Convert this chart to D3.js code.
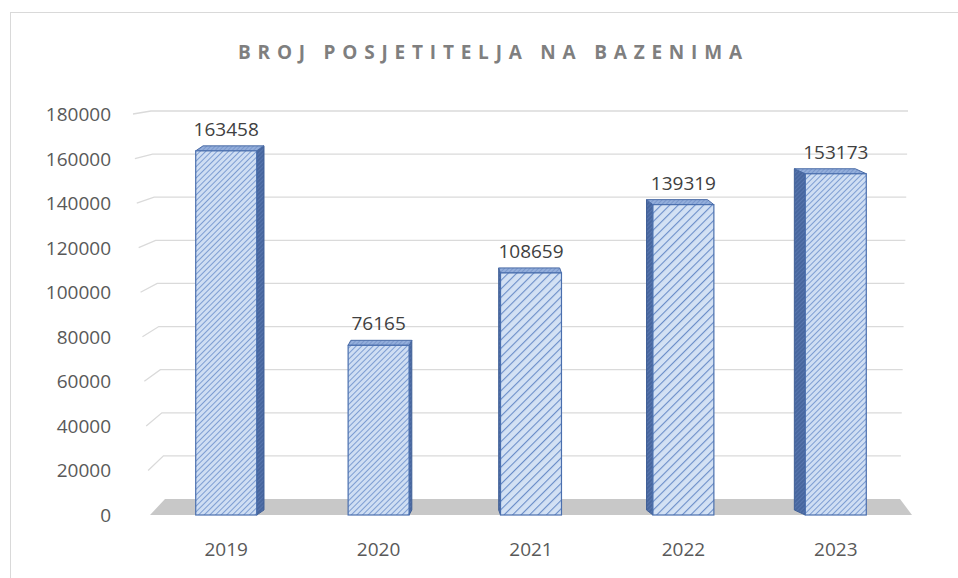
<!DOCTYPE html>
<html>
<head>
<meta charset="utf-8">
<script src="https://cdn.jsdelivr.net/npm/d3@7"></script>
<style>
  body { margin: 0; background: #fff; }
  svg { display: block; }
</style>
</head>
<body>
<svg id="chart" width="958" height="578"></svg>
<script>
// data
var chartTitle = 'BROJ POSJETITELJA NA BAZENIMA';
var years = ['2019', '2020', '2021', '2022', '2023'];
var visitors = [163458, 76165, 108659, 139319, 153173];
var yTicks = [0, 20000, 40000, 60000, 80000, 100000, 120000, 140000, 160000, 180000];

var data = years.map(function (y, i) {
  return { year: y, value: visitors[i], idx: i };
});

var svg = d3.select('#chart');
var font = '"Open Sans", "Liberation Sans", sans-serif';

// frame of the chart area (runs off the right / bottom edge)
svg.append('rect')
  .attr('x', 10.5).attr('y', 12.5)
  .attr('width', 980).attr('height', 600)
  .attr('fill', '#fff')
  .attr('stroke', '#d9d9d9');

// patterns
var defs = svg.append('defs');
function hatch(id, gap, bg, fg, w) {
  var p = defs.append('pattern')
    .attr('id', id)
    .attr('patternUnits', 'userSpaceOnUse')
    .attr('width', gap).attr('height', gap)
    .attr('patternTransform', 'rotate(45)');
  p.append('rect').attr('width', gap).attr('height', gap).attr('fill', bg);
  p.append('line')
    .attr('x1', 0).attr('y1', 0).attr('x2', 0).attr('y2', gap)
    .attr('stroke', fg).attr('stroke-width', w);
}
hatch('fine', 4, '#cfdef3', '#7496cf', 1.8);
hatch('wide', 6, '#d3e1f4', '#6a8dc8', 2.2);
hatch('sideDark', 3, '#48679f', '#6683bb', 1);
hatch('topDots', 3, '#93aedb', '#6483bd', 1);

var patternFor = ['fine', 'fine', 'wide', 'wide', 'fine'];

// scales: front plane (labels, bar faces) and back wall (gridlines)
var yFront = d3.scaleLinear().domain([0, 180000]).range([515, 114]);
var yBack = d3.scaleLinear().domain([0, 180000]).range([499, 111]);
var xFrontLeft = d3.scaleLinear().domain([0, 180000]).range([150, 133]);
var xBackLeft = d3.scaleLinear().domain([0, 180000]).range([165, 151]);
var xBackRight = d3.scaleLinear().domain([0, 180000]).range([900, 908]);

var x = d3.scaleBand()
  .domain(years)
  .range([150, 912])
  .paddingInner(0.6)
  .paddingOuter(0.3);

// gridlines (side wall piece + back wall piece)
var grid = svg.append('g').attr('fill', 'none').attr('stroke', '#dadada').attr('stroke-width', 1.3);
grid.selectAll('path')
  .data(yTicks.slice(1))
  .enter()
  .append('path')
  .attr('d', function (v) {
    return 'M' + xFrontLeft(v) + ',' + yFront(v) +
      'L' + xBackLeft(v) + ',' + yBack(v) +
      'L' + xBackRight(v) + ',' + yBack(v);
  });

// floor
svg.append('path')
  .attr('d', 'M' + xFrontLeft(0) + ',' + yFront(0) +
    'L' + xBackLeft(0) + ',' + yBack(0) +
    'L' + xBackRight(0) + ',' + yBack(0) +
    'L' + x.range()[1] + ',' + yFront(0) + 'Z')
  .attr('fill', '#c8c8c8');

// bars
var vpX = 470, depthK = 0.03, depthY = 5;
var bars = svg.append('g').selectAll('g')
  .data(data)
  .enter()
  .append('g');

bars.each(function (d) {
  var g = d3.select(this);
  var x0 = x(d.year), x1 = x0 + x.bandwidth();
  var yt = yFront(d.value), yb = yFront(0);
  var cx = (x0 + x1) / 2;
  var dx = (vpX - cx) * depthK;
  var sx = dx > 0 ? x1 : x0;

  // side face
  g.append('path')
    .attr('d', 'M' + sx + ',' + yt + 'L' + (sx + dx) + ',' + (yt - depthY) +
      'L' + (sx + dx) + ',' + (yb - depthY) + 'L' + sx + ',' + yb + 'Z')
    .attr('fill', 'url(#sideDark)')
    .attr('stroke', '#3f5f97').attr('stroke-width', 1);

  // top face
  g.append('path')
    .attr('d', 'M' + x0 + ',' + yt + 'L' + x1 + ',' + yt +
      'L' + (x1 + dx) + ',' + (yt - depthY) + 'L' + (x0 + dx) + ',' + (yt - depthY) + 'Z')
    .attr('fill', 'url(#topDots)')
    .attr('stroke', '#4a6ba6').attr('stroke-width', 1);

  // front face
  g.append('rect')
    .attr('x', x0).attr('y', yt)
    .attr('width', x.bandwidth()).attr('height', yb - yt)
    .attr('fill', 'url(#' + patternFor[d.idx] + ')')
    .attr('stroke', '#4a6fae').attr('stroke-width', 1.2);
});

// value labels
svg.append('g').selectAll('text')
  .data(data)
  .enter()
  .append('text')
  .attr('x', function (d) { return x(d.year) + x.bandwidth() / 2; })
  .attr('y', function (d) { return yFront(d.value) - 15; })
  .attr('text-anchor', 'middle')
  .attr('font-family', font)
  .attr('font-size', '19px')
  .attr('fill', '#404040')
  .text(function (d) { return d.value; });

// y tick labels
svg.append('g').selectAll('text')
  .data(yTicks)
  .enter()
  .append('text')
  .attr('x', 111)
  .attr('y', function (v) { return yFront(v) + 7; })
  .attr('text-anchor', 'end')
  .attr('font-family', font)
  .attr('font-size', '19px')
  .attr('fill', '#595959')
  .text(function (v) { return v; });

// category labels
svg.append('g').selectAll('text')
  .data(years)
  .enter()
  .append('text')
  .attr('x', function (y) { return x(y) + x.bandwidth() / 2; })
  .attr('y', 556)
  .attr('text-anchor', 'middle')
  .attr('font-family', font)
  .attr('font-size', '19px')
  .attr('fill', '#595959')
  .text(function (y) { return y; });

// title
svg.append('text')
  .attr('x', 490)
  .attr('y', 59)
  .attr('text-anchor', 'middle')
  .attr('font-family', font)
  .attr('font-weight', 'bold')
  .attr('font-size', '19px')
  .attr('fill', '#7f7f7f')
  .attr('textLength', 504)
  .attr('lengthAdjust', 'spacing')
  .text(chartTitle);
</script>
</body>
</html>
